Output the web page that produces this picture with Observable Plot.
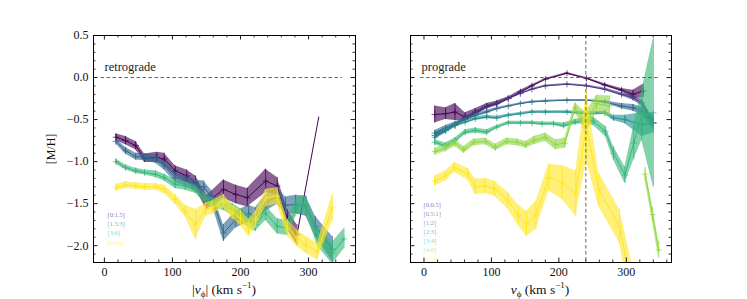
<!DOCTYPE html>
<html><head><meta charset="utf-8">
<script src="https://cdn.jsdelivr.net/npm/d3@7"></script>
<script src="https://cdn.jsdelivr.net/npm/@observablehq/plot@0.6"></script>
<style>
body{margin:0;background:#fff;}
#fig{position:relative;width:747px;height:299px;font-family:"Liberation Serif",serif;overflow:hidden;background:#fff;}
#fig svg{position:absolute;top:0;}
.xl{position:absolute;top:277px;font-size:13.5px;line-height:16px;transform:translateX(-50%);white-space:nowrap;color:#111;}
.xl sub{font-size:9px;}
.xl sup{font-size:9px;}
</style></head><body><div id="fig"></div>
<script>
// ---------- tick values ----------
const yMajorTicks = [0.5, 0, -0.5, -1, -1.5, -2];
const yMinorTicks = [0.4, 0.3, 0.2, 0.1, -0.1, -0.2, -0.3, -0.4, -0.6, -0.7, -0.8, -0.9, -1.1, -1.2, -1.3, -1.4, -1.6, -1.7, -1.8, -1.9, -2.1];
const xMajorTicks = [0, 100, 200, 300];
const xMinorTicks = [20, 40, 60, 80, 120, 140, 160, 180, 220, 240, 260, 280, 320, 340, 360];

// ---------- retrograde panel ----------
const retroLabels = ["[0:1.5]", "[1.5:3]", "[3:6]", "[6:10]"];
const retroColors = ["#440154", "#31688e", "#35b779", "#fde725"];
const retroX0 = [17, 31, 46, 59, 77, 88, 104, 121, 134, 150, 175, 193, 210, 237, 254, 269, 283, 315];
const retroY0 = [-0.71, -0.75, -0.81, -0.96, -0.95, -0.97, -1.11, -1.17, -1.25, -1.49, -1.33, -1.39, -1.43, -1.23, -1.29, -1.69, -1.87, -0.47];
const retroE0 = [0.04, 0.05, 0.05, 0.05, 0.06, 0.07, 0.06, 0.07, 0.08, 0.08, 0.11, 0.11, 0.11, 0.14, 0.10, 0.12, 0.12, NaN];
const retroX1 = [17, 31, 46, 59, 75, 88, 104, 119, 134, 146, 158, 175, 193, 212, 222, 237, 254, 266, 281, 296, 310, 335];
const retroY1 = [-0.76, -0.87, -0.94, -0.95, -0.97, -1.05, -1.19, -1.23, -1.29, -1.30, -1.43, -1.85, -1.69, -1.62, -1.65, -1.49, -1.41, -1.52, -1.51, -1.53, -1.77, -2.04];
const retroE1 = [0.03, 0.04, 0.04, 0.04, 0.05, 0.05, 0.06, 0.06, 0.07, 0.07, 0.08, 0.10, 0.10, 0.10, 0.10, 0.10, 0.10, 0.10, 0.11, 0.12, 0.12, 0.15];
const retroX2 = [17, 31, 46, 59, 75, 88, 104, 119, 134, 149, 158, 175, 188, 202, 222, 237, 254, 269, 283, 296, 313, 335, 352];
const retroY2 = [-1.00, -1.07, -1.11, -1.13, -1.15, -1.19, -1.27, -1.29, -1.33, -1.45, -1.49, -1.51, -1.57, -1.65, -1.75, -1.61, -1.77, -1.79, -1.53, -1.51, -1.89, -2.09, -1.92];
const retroE2 = [0.03, 0.03, 0.03, 0.03, 0.04, 0.04, 0.05, 0.05, 0.05, 0.05, 0.06, 0.07, 0.07, 0.08, 0.08, 0.09, 0.09, 0.09, 0.10, 0.10, 0.11, 0.13, 0.12];
const retroX3 = [17, 31, 46, 59, 75, 88, 104, 119, 134, 149, 158, 175, 188, 200, 212, 222, 237, 254, 269, 283, 296, 313, 335];
const retroY3 = [-1.31, -1.28, -1.29, -1.30, -1.30, -1.33, -1.45, -1.59, -1.75, -1.57, -1.55, -1.47, -1.60, -1.67, -1.79, -1.69, -1.43, -1.41, -1.79, -1.91, -1.99, -2.07, -1.55];
const retroE3 = [0.04, 0.04, 0.04, 0.04, 0.04, 0.05, 0.06, 0.07, 0.18, 0.08, 0.08, 0.08, 0.08, 0.09, 0.10, 0.10, 0.10, 0.10, 0.10, 0.10, 0.10, 0.10, 0.16];

// ---------- prograde panel ----------
const proLabels = ["[0:0.5]", "[0.5:1]", "[1:2]", "[2:3]", "[3:4]", "[4:6]", "[6:10]"];
const proColors = ["#440154", "#443983", "#31688e", "#21918c", "#35b779", "#90d743", "#fde725"];
const proX0 = [16, 32, 46, 61, 76, 93, 108, 125, 143, 160, 180, 212, 241, 268, 293, 310, 325];
const proY0 = [-0.44, -0.43, -0.41, -0.47, -0.41, -0.34, -0.31, -0.25, -0.17, -0.10, -0.02, 0.05, -0.01, -0.09, -0.15, -0.20, -0.16];
const proE0 = [0.10, 0.07, 0.10, 0.05, 0.04, 0.03, 0.03, 0.02, 0.02, 0.015, 0.01, 0.01, 0.01, 0.015, 0.02, 0.05, 0.08];
const proX1 = [16, 32, 46, 61, 76, 93, 108, 125, 143, 160, 180, 212, 241, 268, 293, 310, 323, 340];
const proY1 = [-0.69, -0.63, -0.57, -0.49, -0.43, -0.35, -0.31, -0.25, -0.19, -0.14, -0.10, -0.08, -0.10, -0.14, -0.20, -0.24, -0.30, -0.54];
const proE1 = [0.03, 0.03, 0.02, 0.02, 0.02, 0.02, 0.015, 0.01, 0.01, 0.01, 0.01, 0.01, 0.01, 0.015, 0.02, 0.03, 0.04, 0.05];
const proX2 = [16, 32, 46, 61, 76, 93, 108, 125, 143, 160, 180, 212, 241, 268, 293, 310, 323, 340];
const proY2 = [-0.66, -0.60, -0.55, -0.50, -0.45, -0.41, -0.37, -0.34, -0.31, -0.29, -0.28, -0.27, -0.27, -0.29, -0.34, -0.36, -0.40, -0.54];
const proE2 = [0.03, 0.03, 0.02, 0.02, 0.02, 0.02, 0.015, 0.01, 0.01, 0.01, 0.01, 0.01, 0.01, 0.015, 0.03, 0.04, 0.05, 0.08];
const proX3 = [16, 32, 46, 61, 76, 93, 108, 125, 143, 160, 180, 212, 241, 268, 281, 298, 323, 340];
const proY3 = [-0.71, -0.63, -0.57, -0.53, -0.49, -0.47, -0.48, -0.45, -0.43, -0.41, -0.41, -0.41, -0.43, -0.42, -0.48, -0.50, -0.56, -0.54];
const proE3 = [0.03, 0.03, 0.02, 0.02, 0.02, 0.02, 0.02, 0.015, 0.015, 0.015, 0.015, 0.015, 0.02, 0.02, 0.03, 0.05, 0.14, 0.12];
const proX4 = [16, 32, 46, 61, 76, 93, 108, 125, 143, 160, 175, 192, 207, 224, 241, 251, 269, 281, 298, 311, 323, 340];
const proY4 = [-0.77, -0.81, -0.75, -0.65, -0.63, -0.65, -0.59, -0.54, -0.54, -0.54, -0.55, -0.55, -0.57, -0.53, -0.51, -0.52, -0.64, -0.90, -1.16, -0.78, -0.45, -0.42];
const proE4 = [0.03, 0.03, 0.03, 0.03, 0.03, 0.03, 0.02, 0.02, 0.02, 0.02, 0.02, 0.02, 0.03, 0.03, 0.04, 0.05, 0.06, 0.08, 0.10, 0.20, 0.30, 0.88];
const proX5 = [16, 32, 46, 59, 74, 91, 106, 123, 138, 151, 163, 180, 195, 209, 224, 240, 256, 275, 300, 328, 339, 348];
const proY5 = [-0.88, -0.84, -0.78, -0.86, -0.77, -0.76, -0.83, -0.76, -0.77, -0.80, -0.75, -0.71, -0.80, -0.78, -0.36, -0.54, -0.31, -0.34, NaN, -1.15, -1.63, -2.05];
const proE5 = [0.04, 0.04, 0.04, 0.04, 0.04, 0.04, 0.04, 0.04, 0.04, 0.04, 0.05, 0.05, 0.06, 0.06, 0.06, 0.12, 0.10, 0.12, NaN, 0.08, 0.09, 0.10];
const proX6 = [16, 32, 45, 65, 76, 90, 104, 124, 140, 152, 166, 185, 205, 225, 241, 259, 290, 308];
const proY6 = [-1.23, -1.17, -1.07, -1.15, -1.30, -1.29, -1.32, -1.46, -1.64, -1.74, -1.64, -1.19, -1.25, -1.38, -0.58, -1.33, -1.77, -2.50];
const proE6 = [0.06, 0.06, 0.06, 0.07, 0.09, 0.09, 0.09, 0.10, 0.12, 0.15, 0.17, 0.16, 0.20, 0.27, 0.42, 0.20, 0.20, 0.30];

const zeroLine = [-5, 350];
const vCirc = 240;

const FONT = "Liberation Serif";

function makePanel(o) {
  const height = 299, mT = 35, mB = 37;
  const H = height - mT - mB, W = o.width - o.mL - o.mR;
  const marks = [];
  o.xs.forEach((xArr, i) => {
    const c = o.colors[i];
    const rows = xArr.map((x, j) => ({x, y: o.ys[i][j], lo: o.ys[i][j] - o.es[i][j], hi: o.ys[i][j] + o.es[i][j]}));
    const withErr = rows.filter(r => isFinite(r.lo));
    marks.push(Plot.areaY(rows, {x: "x", y1: "lo", y2: "hi", fill: c, fillOpacity: 0.62, clip: true}));
    marks.push(Plot.lineY(rows, {x: "x", y: "y", stroke: c, strokeWidth: 1, clip: true}));
    marks.push(Plot.ruleX(withErr, {x: "x", y1: "lo", y2: "hi", stroke: c, strokeWidth: 0.8, clip: true}));
    marks.push(Plot.dot(withErr, {x: "x", y: "y", symbol: "plus", r: 2.2, stroke: c, strokeWidth: 0.7, clip: true}));
  });
  marks.push(Plot.ruleY([{y: 0, x1: zeroLine[0], x2: zeroLine[1]}], {y: "y", x1: "x1", x2: "x2", stroke: "#555", strokeWidth: 0.9, strokeDasharray: "3.5,2.5"}));
  if (o.vline != null) marks.push(Plot.ruleX([{x: o.vline}], {x: "x", stroke: "#555", strokeWidth: 0.9, strokeDasharray: "3.5,2.5"}));
  marks.push(Plot.text([o.title], {frameAnchor: "top-left", dx: 11, dy: 31, textAnchor: "start", lineAnchor: "middle", fontSize: 12.5, fill: "#222", fontFamily: FONT}));
  const n = o.labels.length;
  o.labels.forEach((l, i) => {
    marks.push(Plot.text([l], {frameAnchor: "bottom-left", dx: o.legDx, dy: -(o.legBottom + (n - 1 - i) * o.legStep), textAnchor: "start", lineAnchor: "middle", fontSize: 6.5, fill: o.colors[i], fillOpacity: 0.6, fontFamily: FONT}));
  });
  // inward ticks on all sides
  marks.push(Plot.tickX(xMinorTicks, {insetTop: H - 2.5, stroke: "#000", strokeWidth: 0.8}));
  marks.push(Plot.tickX(xMinorTicks, {insetBottom: H - 2.5, stroke: "#000", strokeWidth: 0.8}));
  marks.push(Plot.tickX(xMajorTicks, {insetTop: H - 4.5, stroke: "#000", strokeWidth: 0.9}));
  marks.push(Plot.tickX(xMajorTicks, {insetBottom: H - 4.5, stroke: "#000", strokeWidth: 0.9}));
  marks.push(Plot.tickY(yMinorTicks, {insetRight: W - 2.5, stroke: "#000", strokeWidth: 0.8}));
  marks.push(Plot.tickY(yMinorTicks, {insetLeft: W - 2.5, stroke: "#000", strokeWidth: 0.8}));
  marks.push(Plot.tickY(yMajorTicks, {insetRight: W - 4.5, stroke: "#000", strokeWidth: 0.9}));
  marks.push(Plot.tickY(yMajorTicks, {insetLeft: W - 4.5, stroke: "#000", strokeWidth: 0.9}));
  marks.push(Plot.axisX(xMajorTicks, {tickSize: 0, tickPadding: 5, label: null, fontSize: 12, fontFamily: FONT}));
  if (o.showY) {
    marks.push(Plot.axisY(yMajorTicks, {tickSize: 0, tickPadding: 5, tickFormat: d3.format(".1f"), fontSize: 12, fontFamily: FONT,
      label: "[M/H]", labelAnchor: "center", labelOffset: 47, labelArrow: "none"}));
  }
  marks.push(Plot.frame({stroke: "#000", strokeWidth: 1}));
  const svg = Plot.plot({
    width: o.width, height,
    marginLeft: o.mL, marginRight: o.mR, marginTop: mT, marginBottom: mB,
    x: {domain: o.xDomain, label: null},
    y: {domain: [-2.2, 0.5], label: null, axis: o.showY ? undefined : null},
    style: {background: "transparent", fontFamily: FONT, fontSize: "12px", color: "#111", overflow: "visible"},
    marks
  });
  svg.style.left = o.left + "px";
  return svg;
}

const fig = document.getElementById("fig");
fig.appendChild(makePanel({
  left: 0, width: 370, mL: 93, mR: 15, xDomain: [-16, 369], showY: true,
  xs: [retroX0, retroX1, retroX2, retroX3], ys: [retroY0, retroY1, retroY2, retroY3], es: [retroE0, retroE1, retroE2, retroE3],
  colors: retroColors, labels: retroLabels, title: "retrograde", vline: null,
  legDx: 14, legBottom: 20, legStep: 9.2
}));
fig.appendChild(makePanel({
  left: 370, width: 377, mL: 40, mR: 76, xDomain: [-20, 367], showY: false,
  xs: [proX0, proX1, proX2, proX3, proX4, proX5, proX6], ys: [proY0, proY1, proY2, proY3, proY4, proY5, proY6], es: [proE0, proE1, proE2, proE3, proE4, proE5, proE6],
  colors: proColors, labels: proLabels, title: "prograde", vline: vCirc,
  legDx: 13, legBottom: 3, legStep: 9.1
}));
const xl1 = document.createElement("div");
xl1.className = "xl"; xl1.style.left = "224px";
xl1.innerHTML = "|<i>v</i><sub>ϕ</sub>| (km s<sup>−1</sup>)";
fig.appendChild(xl1);
const xl2 = document.createElement("div");
xl2.className = "xl"; xl2.style.left = "540px";
xl2.innerHTML = "<i>v</i><sub>ϕ</sub> (km s<sup>−1</sup>)";
fig.appendChild(xl2);
</script>
</body></html>
